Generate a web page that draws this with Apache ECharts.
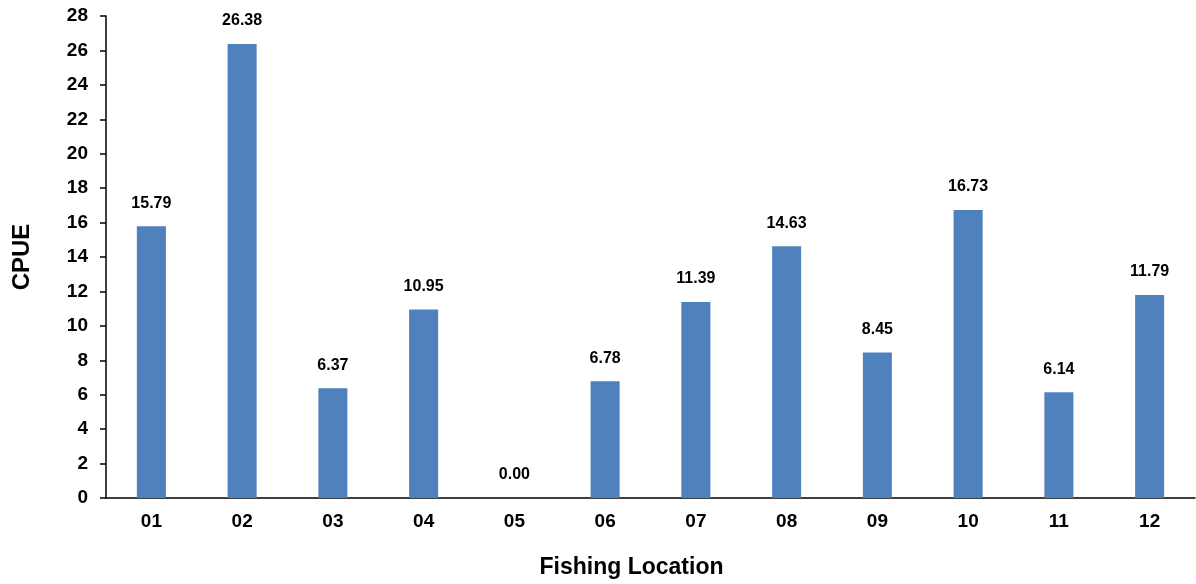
<!DOCTYPE html>
<html><head><meta charset="utf-8">
<script src="https://cdn.jsdelivr.net/npm/echarts@6/dist/echarts.min.js"></script>
<style>html,body{margin:0;padding:0;background:#fff}#c{width:1196px;height:584px}</style>
</head><body><div id="c"></div>
<script>
const categories = ['01','02','03','04','05','06','07','08','09','10','11','12'];
const cpue = [15.79, 26.38, 6.37, 10.95, 0.00, 6.78, 11.39, 14.63, 8.45, 16.73, 6.14, 11.79];
const yMin = 0, yMax = 28, yStep = 2;
const font = 'Liberation Sans, Arial, sans-serif';
const chart = echarts.init(document.getElementById('c'));
chart.setOption({
  animation: false,
  grid: {left: 106, right: 1, top: 16, bottom: 83},
  xAxis: {
    type: 'category', data: categories,
    name: 'Fishing Location', nameLocation: 'middle', nameGap: 58,
    nameTextStyle: {fontFamily: font, fontWeight: 'bold', fontSize: 23, color: '#000', padding: [0, 38, 0, 0]},
    axisLine: {lineStyle: {color: '#000', width: 1.5}},
    axisTick: {length: 6, lineStyle: {color: '#000', width: 1.5}},
    axisLabel: {fontFamily: font, fontWeight: 'bold', fontSize: 19, color: '#000', margin: 14}
  },
  yAxis: {
    type: 'value', min: yMin, max: yMax, interval: yStep,
    name: 'CPUE', nameLocation: 'middle', nameGap: 72,
    nameTextStyle: {fontFamily: font, fontWeight: 'bold', fontSize: 24, color: '#000'},
    axisLine: {show: true, lineStyle: {color: '#000', width: 1.5}},
    axisTick: {show: true, length: 6, lineStyle: {color: '#000', width: 1.5}},
    splitLine: {show: false},
    axisLabel: {fontFamily: font, fontWeight: 'bold', fontSize: 19, color: '#000', margin: 18}
  },
  series: [{
    type: 'bar', data: cpue, barWidth: '32%',
    itemStyle: {color: '#4F81BD'},
    label: {show: true, position: 'top', distance: 15, formatter: p => p.value.toFixed(2),
      fontFamily: font, fontWeight: 'bold', fontSize: 16, color: '#000'}
  }]
});
</script></body></html>
